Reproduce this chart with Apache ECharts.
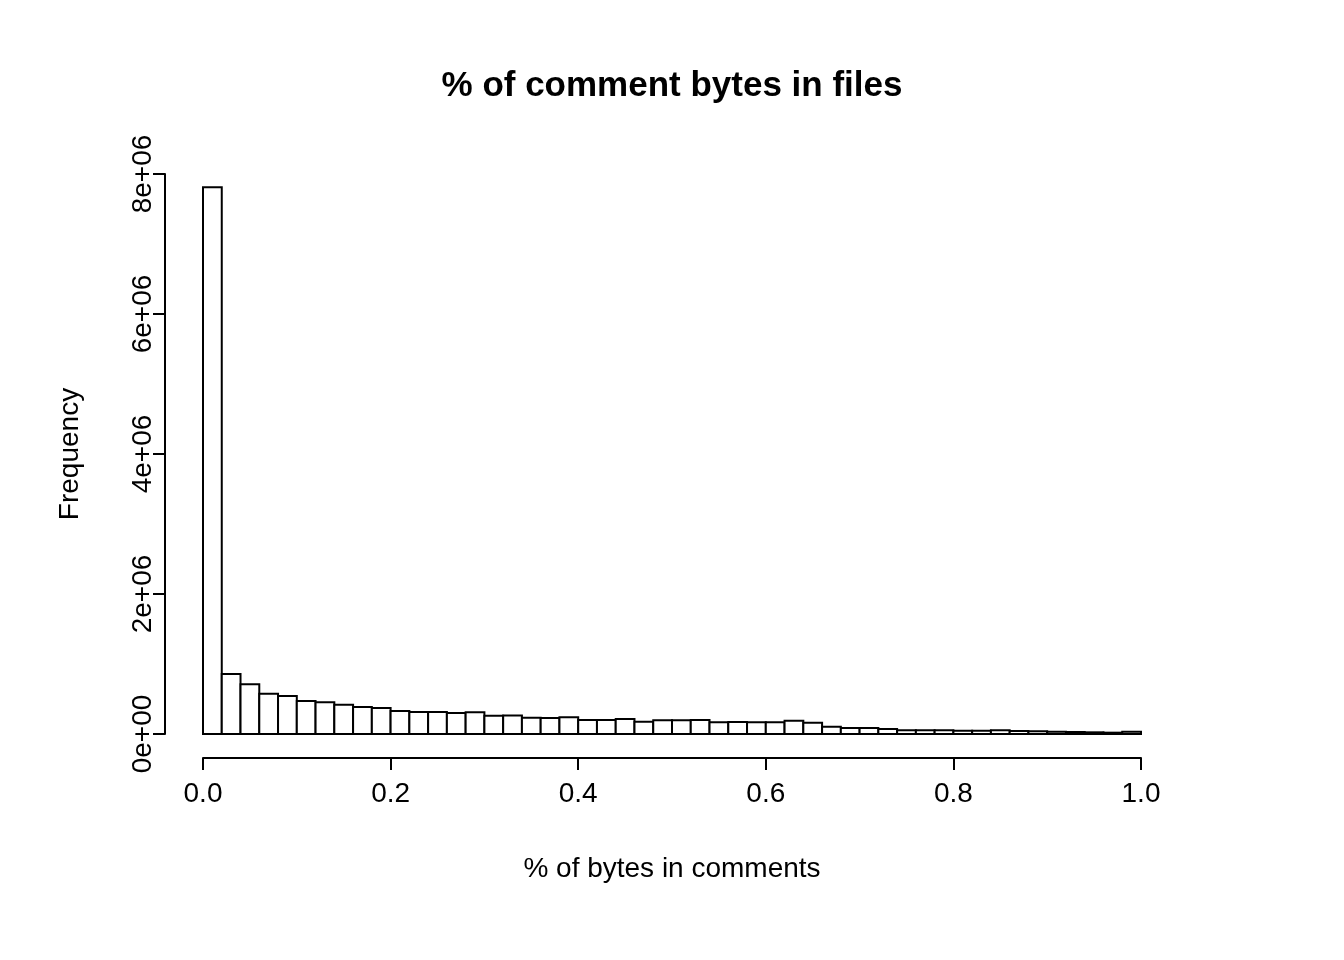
<!DOCTYPE html>
<html>
<head>
<meta charset="utf-8">
<script src="https://cdn.jsdelivr.net/npm/echarts@6/dist/echarts.min.js"></script>
<style>html,body{margin:0;background:#fff}#c{width:1344px;height:960px}</style>
</head>
<body>
<div id="c"></div>
<script>
// histogram: 50 bins of width 0.02
const binWidth = 0.02;
const counts = [
  7810000, 857000, 710000, 576000, 543000, 471000, 453000, 419000, 386000, 371000,
  329000, 314000, 314000, 300000, 310000, 261000, 266000, 233000, 228000, 240000,
  200000, 200000, 214000, 176000, 195000, 195000, 200000, 167000, 171000, 167000,
  167000, 190000, 162000, 105000, 86000, 86000, 71000, 52000, 52000, 52000,
  48000, 48000, 52000, 43000, 38000, 33000, 29000, 24000, 19000, 33000
];
const xTicks = [0, 0.2, 0.4, 0.6, 0.8, 1.0];

const bins = counts.map((c, i) => [i * binWidth, (i + 1) * binWidth, c]);

const chart = echarts.init(document.getElementById('c'));
const font = 'Liberation Sans, Arial, sans-serif';
chart.setOption({
  animation: false,
  title: {
    text: '% of comment bytes in files',
    left: 'center', top: 64,
    textStyle: { fontFamily: font, fontSize: 35, fontWeight: 'bold', color: '#000' }
  },
  grid: { left: 203, right: 203, top: 174, bottom: 226 },
  xAxis: {
    type: 'value', min: 0, max: 1, interval: 0.2, offset: 24,
    name: '% of bytes in comments', nameLocation: 'middle', nameGap: 97,
    nameTextStyle: { fontFamily: font, fontSize: 28, color: '#000' },
    axisLine: { show: true, onZero: false, lineStyle: { color: '#000', width: 2 } },
    axisTick: { show: true, length: 12, lineStyle: { color: '#000', width: 2 } },
    axisLabel: { fontFamily: font, fontSize: 28, color: '#000', margin: 22,
      formatter: v => v.toFixed(1) },
    splitLine: { show: false }
  },
  yAxis: {
    type: 'value', min: 0, max: 8e6, interval: 2e6, offset: 38,
    name: 'Frequency', nameLocation: 'middle', nameGap: 81,
    nameTextStyle: { fontFamily: font, fontSize: 28, color: '#000' },
    axisLine: { show: true, onZero: false, lineStyle: { color: '#000', width: 2 } },
    axisTick: { show: true, length: 12, lineStyle: { color: '#000', width: 2 } },
    axisLabel: { fontFamily: font, fontSize: 28, color: '#000', rotate: 90, margin: 8,
      formatter: v => v === 0 ? '0e+00' : (v / 1e6) + 'e+06' },
    splitLine: { show: false }
  },
  series: [{
    type: 'custom',
    data: bins,
    encode: { x: [0, 1], y: 2 },
    renderItem: (params, api) => {
      const p0 = api.coord([api.value(0), 0]);
      const p1 = api.coord([api.value(1), api.value(2)]);
      return {
        type: 'rect',
        shape: { x: p0[0], y: p1[1], width: p1[0] - p0[0], height: p0[1] - p1[1] },
        style: { fill: '#fff', stroke: '#000', lineWidth: 2 }
      };
    }
  }]
});
</script>
</body>
</html>
